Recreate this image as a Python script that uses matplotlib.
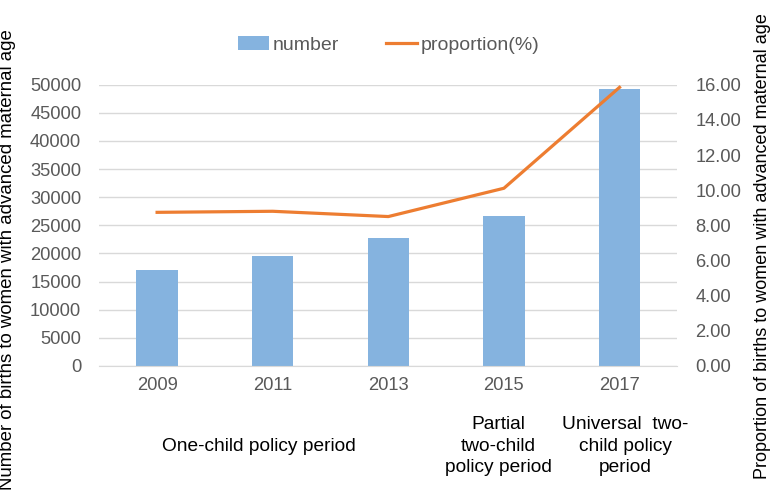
import matplotlib
matplotlib.use("Agg")
from matplotlib import pyplot as plt

years = ["2009", "2011", "2013", "2015", "2017"]
births = [17010, 19500, 22700, 26700, 49300]
proportion = [8.74, 8.80, 8.50, 10.11, 15.85]
left_ticks = list(range(0, 50001, 5000))
right_ticks = [0, 2, 4, 6, 8, 10, 12, 14, 16]
periods = ["One-child policy period", "Partial\ntwo-child\npolicy period", "Universal  two-\nchild policy\nperiod"]

plt.rcParams["font.family"] = ["Liberation Sans", "DejaVu Sans"]
grey = "#595959"

fig = plt.figure(figsize=(7.71, 5.03), dpi=100)
ax = fig.add_axes([0.1288, 0.2724, 0.7497, 0.5592])
x = list(range(len(years)))
ax.bar(x, births, width=0.357, color="#85B3DF", label="number", zorder=2)
ax.set_xlim(-0.5, 4.5)
ax.set_ylim(0, 50000)
ax.set_yticks(left_ticks)
ax.set_yticklabels([str(t) for t in left_ticks])
ax.set_xticks(x)
ax.set_xticklabels(years)
ax.grid(axis="y", color="#d9d9d9", linewidth=1, zorder=0)
for s in ["top", "left", "right"]:
    ax.spines[s].set_visible(False)
ax.spines["bottom"].set_color("#d9d9d9")
ax.tick_params(axis="both", length=0, labelsize=13.2, colors=grey)
ax.tick_params(axis="x", pad=8)
ax.tick_params(axis="y", pad=13)
ax.set_ylabel("Number of births to women with advanced maternal age", fontsize=13.4)
ax.yaxis.set_label_coords(-0.1445, 0.38)

ax2 = ax.twinx()
ax2.plot(x, proportion, color="#ED7D31", linewidth=2.3, label="proportion(%)", zorder=3)
ax2.set_ylim(0, 16)
ax2.set_yticks(right_ticks)
ax2.set_yticklabels(["%.2f" % t for t in right_ticks])
for s in ["top", "left", "right", "bottom"]:
    ax2.spines[s].set_visible(False)
ax2.tick_params(axis="y", length=0, labelsize=13.2, colors=grey, pad=13)
ax2.set_ylabel("Proportion of births to women with advanced maternal age", fontsize=13.0)
ax2.yaxis.set_label_coords(1.132, 0.425)

h1, l1 = ax.get_legend_handles_labels()
h2, l2 = ax2.get_legend_handles_labels()
ax.legend(h1 + h2, l1 + l2, loc="center", bbox_to_anchor=(0.5004, 1.141), ncol=2,
          frameon=False, fontsize=14, labelcolor=grey, handlelength=1.6,
          handletextpad=0.2, columnspacing=2.4)

trans = ax.get_xaxis_transform()
ax.text(0.043, -0.285, periods[0], transform=trans, ha="left", va="center", fontsize=13.8)
ax.text(2.952, -0.285, periods[1], transform=trans, ha="center", va="center",
        fontsize=13.8, linespacing=1.33)
ax.text(4.05, -0.285, periods[2], transform=trans, ha="center", va="center",
        fontsize=13.8, linespacing=1.33)

fig.savefig("out.png", dpi=100)
